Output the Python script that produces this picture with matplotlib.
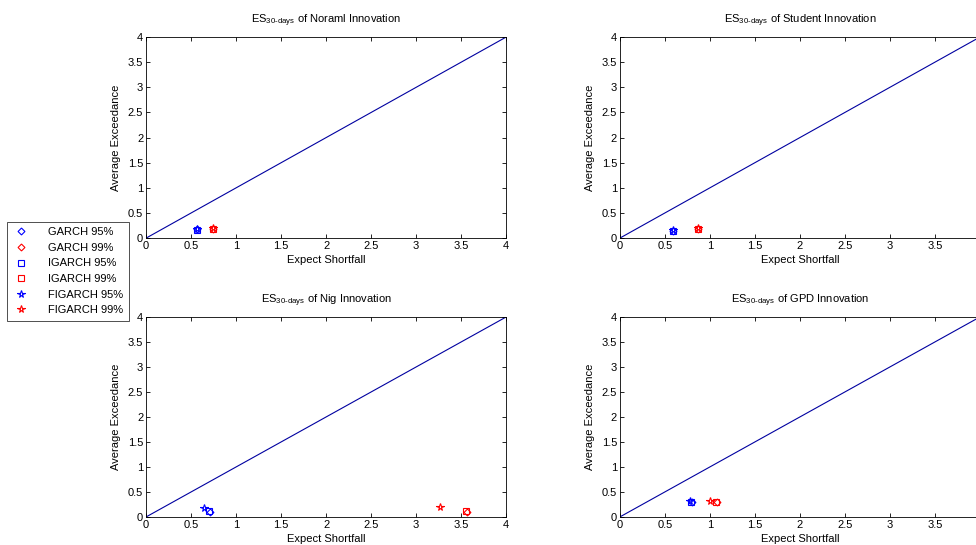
import numpy as np
import matplotlib
matplotlib.use('Agg')
from matplotlib import pyplot as plt
from matplotlib.ticker import FormatStrFormatter

plt.rcParams['font.family'] = ['Liberation Sans', 'DejaVu Sans']
plt.rcParams['mathtext.fontset'] = 'custom'
plt.rcParams['mathtext.rm'] = 'Liberation Sans'
plt.rcParams['mathtext.it'] = 'Liberation Sans'

# innovation names per panel
innovations = ['Noraml', 'Student', 'Nig', 'GPD']
models = ['GARCH 95%', 'GARCH 99%', 'IGARCH 95%', 'IGARCH 99%', 'FIGARCH 95%', 'FIGARCH 99%']

# expected shortfall (x) and average exceedance (y), one row per model
es_normal = [0.57, 0.74, 0.57, 0.74, 0.57, 0.74]
ae_normal = [0.18, 0.19, 0.17, 0.18, 0.18, 0.20]
es_student = [0.59, 0.87, 0.59, 0.87, 0.59, 0.87]
ae_student = [0.15, 0.19, 0.15, 0.19, 0.16, 0.20]
es_nig = [0.71, 3.56, 0.70, 3.55, 0.64, 3.26]
ae_nig = [0.10, 0.10, 0.11, 0.11, 0.18, 0.20]
es_gpd = [0.80, 1.08, 0.79, 1.07, 0.78, 1.00]
ae_gpd = [0.29, 0.29, 0.30, 0.30, 0.31, 0.31]

es_all = [es_normal, es_student, es_nig, es_gpd]
ae_all = [ae_normal, ae_student, ae_nig, ae_gpd]

diag = [0, 4]

markers = ['D', 'D', 's', 's', '*', '*']
colors = ['#0000ff', '#ff0000'] * 3
sizes = [3.5, 3.5, 4.5, 4.5, 5.5, 5.5]

fig = plt.figure(figsize=(9.76, 5.45), dpi=100)
positions = [
    [0.1496, 0.563, 0.369, 0.369],
    [0.635, 0.563, 0.369, 0.369],
    [0.1496, 0.0514, 0.369, 0.367],
    [0.635, 0.0514, 0.369, 0.367],
]

handles = []
for k in range(4):
    ax = fig.add_axes(positions[k])
    ax.plot(diag, diag, color='#0000a0', lw=0.8)
    for i in range(6):
        h, = ax.plot(es_all[k][i], ae_all[k][i], linestyle='none', marker=markers[i],
                     markersize=sizes[i], markerfacecolor='none',
                     markeredgecolor=colors[i], markeredgewidth=0.8)
        if k == 0:
            handles.append(h)
    ax.set_xlim(0, 4)
    ax.set_ylim(0, 4)
    ax.set_xticks(np.arange(0, 4.01, 0.5))
    ax.set_yticks(np.arange(0, 4.01, 0.5))
    ax.xaxis.set_major_formatter(FormatStrFormatter('%g'))
    ax.yaxis.set_major_formatter(FormatStrFormatter('%g'))
    ax.tick_params(direction='in', top=True, right=True, labelsize=8,
                   length=3, width=0.6, pad=2)
    for s in ax.spines.values():
        s.set_linewidth(0.6)
    ax.set_xlabel('Expect Shortfall', fontsize=8, labelpad=3)
    ax.set_ylabel('Average Exceedance', fontsize=8, labelpad=5)
    ax.set_title(r'ES$_{\mathrm{30\text{-}days}}$ of ' + innovations[k] + ' Innovation',
                 fontsize=8, pad=10)

leg = fig.legend(handles, models, loc='upper left', bbox_to_anchor=(0.007, 0.593),
                 fontsize=8, frameon=True, fancybox=False, edgecolor='black',
                 borderpad=0.5, labelspacing=0.5, handletextpad=1.6, handlelength=1.6,
                 borderaxespad=0)
leg.get_frame().set_linewidth(0.6)

fig.savefig('out.png', dpi=100)
